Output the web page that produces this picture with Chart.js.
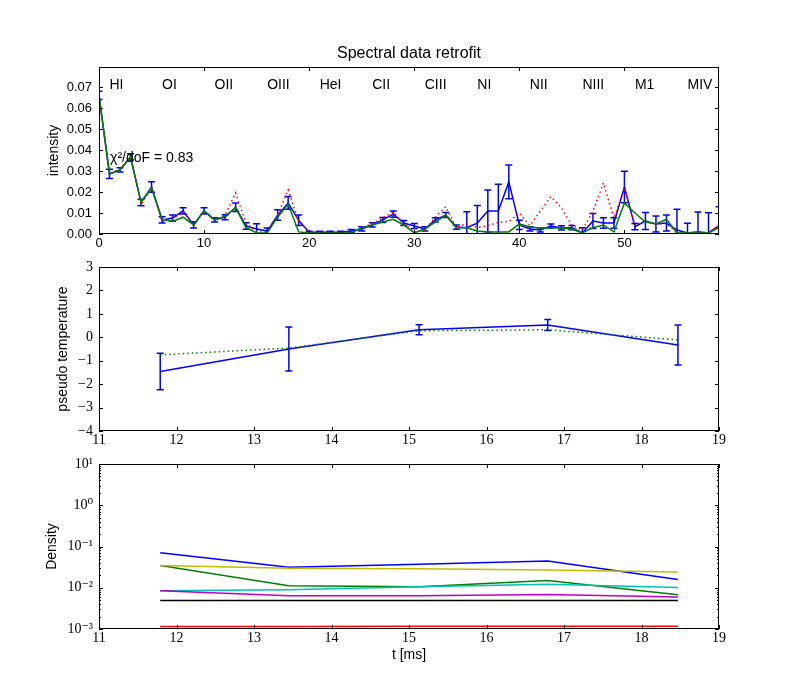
<!DOCTYPE html>
<html><head><meta charset="utf-8">
<script src="https://cdn.jsdelivr.net/npm/chart.js@4"></script>
<style>
html,body{margin:0;padding:0;background:#fff;}
#wrap{position:relative;width:800px;height:700px;background:#fff;overflow:hidden}
canvas{position:absolute;left:0}
</style></head><body>
<div id="wrap">
<canvas id="c1" width="800" height="260" style="top:0px"></canvas>
<canvas id="c2" width="800" height="220" style="top:240px"></canvas>
<canvas id="c3" width="800" height="260" style="top:440px"></canvas>
</div>
<script>
// ---------- data: top panel (spectrum) ----------
const channels = [0,1,2,3,4,5,6,7,8,9,10,11,12,13,14,15,16,17,18,19,20,21,22,23,24,25,26,27,28,29,30,31,32,33,34,35,36,37,38,39,40,41,42,43,44,45,46,47,48,49,50,51,52,53,54,55,56,57,58,59];
const measured = [0.066,0.0286,0.0305,0.0367,0.015,0.0224,0.0067,0.0076,0.011,0.0043,
  0.011,0.0067,0.008,0.0127,0.0038,0.0024,0.0014,0.009,0.0148,0.0065,
  0.0008,0.0008,0.0008,0.0008,0.0014,0.0024,0.0043,0.0067,0.0095,0.0052,
  0.0038,0.0024,0.0067,0.009,0.0033,0.003,0.0052,0.011,0.011,0.0248,
  0.0043,0.0024,0.0019,0.0038,0.0029,0.003,0.0005,0.0062,0.0052,0.0052,
  0.0224,0.0035,0.0062,0.0048,0.0052,0.0019,0.0005,0.0005,0.0005,0.004];
const measuredErr = [0.002,0.0022,0.001,0.0015,0.0015,0.0025,0.0015,0.0015,0.0015,0.0015,
  0.0015,0.001,0.0012,0.002,0.0015,0.0025,0.0015,0.0025,0.003,0.0025,
  0.0005,0.0005,0.0005,0.0005,0.0008,0.001,0.001,0.0012,0.0015,0.0012,
  0.0012,0.001,0.001,0.0012,0.001,0.0076,0.0084,0.01,0.0127,0.008,
  0.0022,0.001,0.001,0.001,0.001,0.001,0.0025,0.0036,0.0025,0.0025,
  0.0075,0.0015,0.004,0.0038,0.0038,0.0099,0.0046,0.01,0.0096,0.009];
const model = [0.066,0.0286,0.031,0.0367,0.014,0.022,0.006,0.007,0.0105,0.004,
  0.011,0.0065,0.009,0.0195,0.005,0.001,0.001,0.009,0.021,0.006,
  0.001,0.0008,0.0008,0.0008,0.001,0.0028,0.005,0.0076,0.0105,0.005,
  0.0008,0.0018,0.008,0.013,0.003,0.005,0.003,0.004,0.0055,0.006,
  0.01,0.004,0.011,0.0178,0.0125,0.004,0.002,0.0106,0.0243,0.0076,
  0.022,0.0043,0.0062,0.0048,0.005,0.0005,0.0005,0.0005,0.0005,0.004];
const fitted = [0.066,0.0286,0.0305,0.0367,0.015,0.022,0.007,0.006,0.008,0.0043,
  0.011,0.0067,0.0085,0.0124,0.003,0.0005,0.0005,0.008,0.0143,0.001,
  0.0005,0.0005,0.0005,0.0005,0.0005,0.003,0.0043,0.0057,0.007,0.0043,
  0.0005,0.0024,0.0057,0.009,0.003,0.003,0.0014,0.001,0.001,0.001,
  0.0048,0.0033,0.0029,0.0029,0.0029,0.0024,0.0005,0.003,0.0043,0.001,
  0.0148,0.01,0.0057,0.0048,0.007,0.0005,0.0005,0.0012,0.0005,0.003];
const ionLabels = ['HI','OI','OII','OIII','HeI','CII','CIII','NI','NII','NIII','M1','MIV'];
const ionPositions = [1,6,11,16,21,26,31,36,41,46,51,56];
const xTicksTop = [0,10,20,30,40,50];
const yTicksTop = [0,0.01,0.02,0.03,0.04,0.05,0.06,0.07];

// ---------- data: middle panel ----------
const times = [11.79,13.45,15.13,16.79,18.47];
const tempMeasured = [-1.46,-0.50,0.32,0.52,-0.33];
const tempErr = [0.78,0.94,0.21,0.235,0.85];
const tempFit = [-0.75,-0.46,0.28,0.32,-0.11];
const xTicksTime = [11,12,13,14,15,16,17,18,19];
const yTicksTemp = [-4,-3,-2,-1,0,1,2,3];

// ---------- data: bottom panel ----------
const densBlue = [0.071,0.0314,0.037,0.0447,0.0158];
const densGreen = [0.0345,0.0112,0.0106,0.0149,0.0068];
const densRed = [0.00115,0.00115,0.00116,0.00117,0.00117];
const densCyan = [0.0085,0.0089,0.0106,0.0122,0.0101];
const densMagenta = [0.0085,0.0064,0.0064,0.0069,0.006];
const densYellow = [0.0345,0.0297,0.029,0.027,0.0242];
const densBlack = [0.0049,0.0049,0.0049,0.0049,0.0049];
const logDecades = [-3,-2,-1,0,1];

const SANS = '"Liberation Sans", Arial, sans-serif';
const SERIF = '"Liberation Serif", "DejaVu Serif", serif';

const pts = (xs, ys) => xs.map((x, i) => ({x: x, y: ys[i]}));

// ---------- plugins ----------
const frameTicks = {
  id: 'frameTicks',
  afterDatasetsDraw(chart) {
    const {ctx, chartArea: a, scales} = chart;
    const X = scales.x, Y = scales.y;
    ctx.save();
    ctx.strokeStyle = '#000';
    ctx.lineWidth = 1;
    ctx.beginPath();
    X.ticks.forEach(t => {
      const px = Math.round(X.getPixelForValue(t.value)) + 0.5;
      const len = t.minorTick ? 2 : 4;
      ctx.moveTo(px, a.bottom); ctx.lineTo(px, a.bottom - len);
      ctx.moveTo(px, a.top); ctx.lineTo(px, a.top + len);
    });
    Y.ticks.forEach(t => {
      const py = Math.round(Y.getPixelForValue(t.value)) + 0.5;
      const len = t.minorTick ? 2 : 4;
      ctx.moveTo(a.left, py); ctx.lineTo(a.left + len, py);
      ctx.moveTo(a.right, py); ctx.lineTo(a.right - len, py);
    });
    ctx.stroke();
    ctx.strokeRect(Math.round(a.left) + 0.5, Math.round(a.top) + 0.5,
                   Math.round(a.right - a.left) - 1, Math.round(a.bottom - a.top) - 1);
    ctx.restore();
  }
};

const errorBars = {
  id: 'errorBars',
  afterDatasetDraw(chart, args) {
    const ds = chart.data.datasets[args.index];
    if (!ds.errors) return;
    const {ctx, chartArea: a, scales} = chart;
    const X = scales.x, Y = scales.y;
    ctx.save();
    ctx.beginPath();
    ctx.rect(a.left, a.top, a.right - a.left, a.bottom - a.top);
    ctx.clip();
    ctx.strokeStyle = ds.borderColor;
    ctx.lineWidth = 1.5;
    ctx.beginPath();
    ds.data.forEach((p, i) => {
      const e = ds.errors[i];
      const px = X.getPixelForValue(p.x);
      const y1 = Y.getPixelForValue(p.y - e);
      const y2 = Y.getPixelForValue(p.y + e);
      ctx.moveTo(px, y1); ctx.lineTo(px, y2);
      ctx.moveTo(px - 3.5, y1); ctx.lineTo(px + 3.5, y1);
      ctx.moveTo(px - 3.5, y2); ctx.lineTo(px + 3.5, y2);
    });
    ctx.stroke();
    ctx.restore();
  }
};

const spectrumText = {
  id: 'spectrumText',
  afterDraw(chart) {
    const {ctx, chartArea: a, scales} = chart;
    const X = scales.x, Y = scales.y;
    ctx.save();
    ctx.fillStyle = '#000';
    ctx.font = '16px ' + SANS;
    ctx.textAlign = 'center';
    ctx.textBaseline = 'middle';
    ctx.fillText('Spectral data retrofit', (a.left + a.right) / 2, a.top - 13);
    ctx.font = '14px ' + SANS;
    ctx.textAlign = 'left';
    ionLabels.forEach((lab, i) => {
      ctx.fillText(lab, X.getPixelForValue(ionPositions[i]), Y.getPixelForValue(0.0711));
    });
    ctx.fillText('\u03C7\u00B2/doF = 0.83', X.getPixelForValue(1.05), Y.getPixelForValue(0.0363));
    ctx.restore();
  }
};

function fixedTicks(list) {
  return function(scale) { scale.ticks = list.map(v => ({value: v})); };
}
function fixWidth(w) { return function(s) { s.width = w; }; }
function fixHeight(h) { return function(s) { s.height = h; }; }

const base = {
  responsive: false,
  animation: false,
  devicePixelRatio: 1,
  plugins: {legend: {display: false}, tooltip: {enabled: false}},
  elements: {point: {radius: 0}, line: {tension: 0}}
};

// ---------- chart 1 ----------
new Chart(document.getElementById('c1'), {
  type: 'line',
  data: {
    datasets: [
      {data: pts(channels, fitted), borderColor: '#008000', borderWidth: 1.5, order: 1},
      {data: pts(channels, model), borderColor: '#ff0000', borderWidth: 1.5, borderDash: [1.5, 3], order: 2},
      {data: pts(channels, measured), errors: measuredErr, borderColor: '#0000ff', borderWidth: 1.5, order: 3}
    ]
  },
  options: Object.assign({}, base, {
    layout: {padding: {top: 67, right: 81, left: 0, bottom: 0}},
    scales: {
      x: {type: 'linear', min: 0, max: 59,
          afterBuildTicks: fixedTicks(xTicksTop), afterFit: fixHeight(26),
          grid: {display: false, drawTicks: false}, border: {display: false},
          ticks: {color: '#000', padding: 2, autoSkip: false, maxRotation: 0,
                  font: {family: SANS, size: 13}, callback: v => String(v)}},
      y: {type: 'linear', min: 0, max: 0.0795,
          afterBuildTicks: fixedTicks(yTicksTop), afterFit: fixWidth(99),
          grid: {display: false, drawTicks: false}, border: {display: false},
          title: {display: true, text: 'intensity', color: '#000',
                  font: {family: SANS, size: 14}, padding: {top: 45.6, bottom: 0}},
          ticks: {color: '#000', padding: 7, autoSkip: false,
                  font: {family: SANS, size: 13}, callback: v => v.toFixed(2)}}
    }
  }),
  plugins: [errorBars, frameTicks, spectrumText]
});

// ---------- chart 2 ----------
new Chart(document.getElementById('c2'), {
  type: 'line',
  data: {
    datasets: [
      {data: pts(times, tempFit), borderColor: '#008000', borderWidth: 1.5, borderDash: [1.5, 3], order: 1},
      {data: pts(times, tempMeasured), errors: tempErr, borderColor: '#0000ff', borderWidth: 1.5, order: 2}
    ]
  },
  options: Object.assign({}, base, {
    layout: {padding: {top: 27, right: 81, left: 0, bottom: 0}},
    scales: {
      x: {type: 'linear', min: 11, max: 19,
          afterBuildTicks: fixedTicks(xTicksTime), afterFit: fixHeight(29),
          grid: {display: false, drawTicks: false}, border: {display: false},
          ticks: {color: '#000', padding: 1, autoSkip: false, maxRotation: 0,
                  font: {family: SERIF, size: 14}, callback: v => String(v)}},
      y: {type: 'linear', min: -4, max: 3,
          afterBuildTicks: fixedTicks(yTicksTemp), afterFit: fixWidth(99),
          grid: {display: false, drawTicks: false}, border: {display: false},
          title: {display: true, text: 'pseudo temperature', color: '#000',
                  font: {family: SANS, size: 14}, padding: {top: 54.6, bottom: 0}},
          ticks: {color: '#000', padding: 6, autoSkip: false,
                  font: {family: SERIF, size: 14},
                  callback: v => v < 0 ? '\u2212' + Math.abs(v) : String(v)}}
    }
  }),
  plugins: [errorBars, frameTicks]
});

// ---------- chart 3 ----------
const supDigits = {'-': '\u207B', '0': '\u2070', '1': '\u00B9', '2': '\u00B2', '3': '\u00B3'};
const logTickList = [];
logDecades.forEach((d, i) => {
  logTickList.push({value: Math.pow(10, d), minorTick: false});
  if (i < logDecades.length - 1) {
    for (let m = 2; m <= 9; m++) logTickList.push({value: m * Math.pow(10, d), minorTick: true});
  }
});
new Chart(document.getElementById('c3'), {
  type: 'line',
  data: {
    datasets: [
      {data: pts(times, densBlue), borderColor: '#0000ff', borderWidth: 1.5, order: 7},
      {data: pts(times, densGreen), borderColor: '#008000', borderWidth: 1.5, order: 6},
      {data: pts(times, densRed), borderColor: '#ff0000', borderWidth: 1.5, order: 5},
      {data: pts(times, densCyan), borderColor: '#00bfbf', borderWidth: 1.5, order: 4},
      {data: pts(times, densMagenta), borderColor: '#bf00bf', borderWidth: 1.5, order: 3},
      {data: pts(times, densYellow), borderColor: '#bfbf00', borderWidth: 1.5, order: 2},
      {data: pts(times, densBlack), borderColor: '#000000', borderWidth: 1.5, order: 1}
    ]
  },
  options: Object.assign({}, base, {
    layout: {padding: {top: 24, right: 81, left: 0, bottom: 0}},
    scales: {
      x: {type: 'linear', min: 11, max: 19,
          afterBuildTicks: fixedTicks(xTicksTime), afterFit: fixHeight(71),
          grid: {display: false, drawTicks: false}, border: {display: false},
          title: {display: true, text: 't [ms]', color: '#000',
                  font: {family: SANS, size: 14}, padding: {top: 0, bottom: 36.6}},
          ticks: {color: '#000', padding: 1, autoSkip: false, maxRotation: 0,
                  font: {family: SERIF, size: 14}, callback: v => String(v)}},
      y: {type: 'logarithmic', min: 1e-3, max: 10,
          afterBuildTicks: function(s) { s.ticks = logTickList.map(t => ({value: t.value, minorTick: t.minorTick})); },
          afterFit: fixWidth(99),
          grid: {display: false, drawTicks: false}, border: {display: false},
          title: {display: true, text: 'Density', color: '#000',
                  font: {family: SANS, size: 14}, padding: {top: 43.6, bottom: 0}},
          ticks: {color: '#000', padding: 6, autoSkip: false,
                  font: {family: SERIF, size: 14},
                  callback: function(v) {
                    const e = Math.round(Math.log10(v));
                    if (Math.abs(v - Math.pow(10, e)) > 1e-12 * Math.pow(10, e)) return '';
                    return '10' + String(e).split('').map(c => supDigits[c]).join('');
                  }}}
    }
  }),
  plugins: [frameTicks]
});
</script>
</body></html>
